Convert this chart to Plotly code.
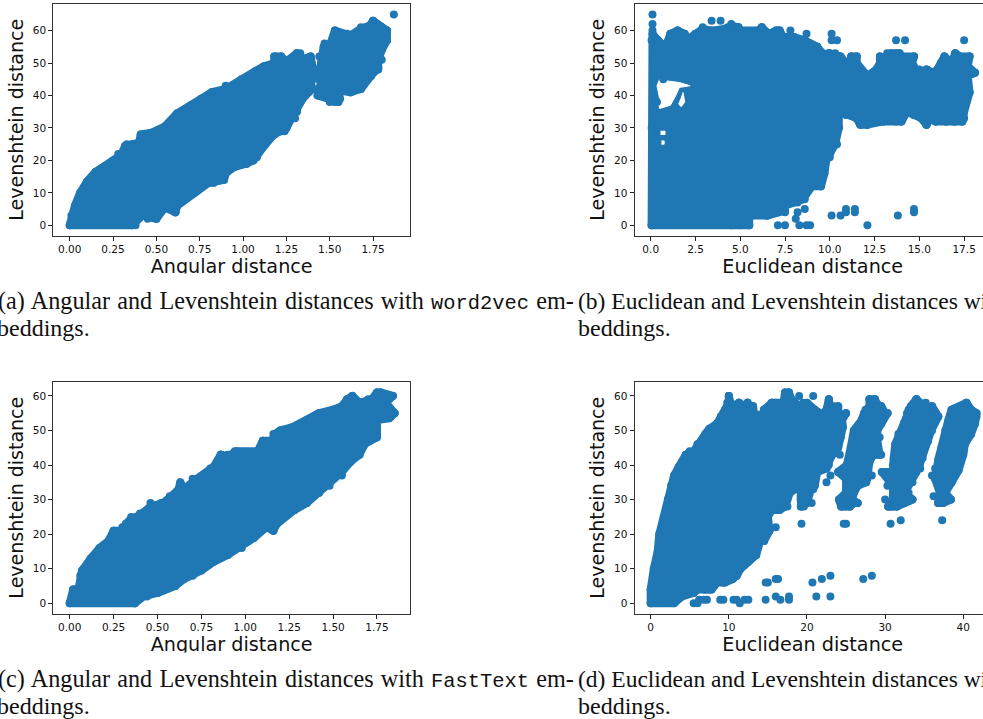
import plotly.graph_objects as go

BLUE = "#1f77b4"
FIG_W, FIG_H = 1000, 719

# ---------- panel (a) word2vec, angular ----------
a_main_x = [0.00,0.01,0.03,0.06,0.10,0.15,0.20,0.25,0.30,0.32,0.40,0.41,0.47,0.55,0.62,0.70,0.76,0.82,0.90,0.97,1.00,1.07,1.12,1.18,1.18,1.22,1.25,1.31,1.33,1.39,1.40,1.41,1.39,1.40,1.35,1.31,1.28,1.25,1.22,1.18,1.13,1.08,1.06,1.02,0.95,0.90,0.89,0.80,0.72,0.62,0.61,0.55,0.50,0.42,0.36,0.00]
a_main_y = [0,3,6,10,13.5,16.5,18,20,22,24.5,25.5,28,28.5,30.5,34.5,37,39,41,42,44,45,47.5,49,50,52,52,50.5,53,51,52,49,48,44.5,42,39.5,35,33,30,29,28,25,21.5,20,19,18,16,14,13,10,6,4,5.5,2,3,0,0]
a_far_x = [1.435,1.45,1.43,1.50,1.53,1.55,1.56,1.62,1.68,1.72,1.74,1.78,1.78,1.80,1.83,1.83,1.80,1.77,1.75,1.73,1.68,1.62,1.53,1.50,1.465,1.45,1.435]
a_far_y = [45,44,40,38.5,38,38,41.5,41,42,45,46.3,48.4,51,54,57,60,61,62,63,61.5,60.6,58.5,60,55.4,55,50,45]
a_out_x = [1.87]
a_out_y = [65]
a_edge_x = [0.17,0.21,0.28,0.33,0.36,0.41,0.44,0.50,0.58,0.68,0.76,0.82,0.90,0.99,1.10,1.14,1.19,1.22,1.31,1.33,1.39,1.41,1.36,1.31,1.30,1.25,1.24,1.18,1.08,1.02,0.95,0.89,0.83,0.74,0.66,0.61,0.50,0.45,0.38,1.45,1.50,1.53,1.56,1.62,1.66,1.70,1.74,1.78,1.80,1.83,1.83,1.80,1.75,1.74,1.68,1.53,1.60,1.47,1.44]
a_edge_y = [17,18,22,25,25,28,27,29,31,36,39,41,43,45,48,49,52,52,53,53,52,46,40,35,33,30,29,28,21,19,18,14,13,11,8,4,2,2,0,41,38,38,39,41,43,44,46,48,51,57,60,61,63,62,61,60,59,56,52]

# ---------- panel (b) word2vec, euclidean ----------
b_main_x = [0.05,0.05,0.05,0.10,0.40,0.70,0.90,1.10,1.50,1.90,2.00,2.50,2.90,3.40,3.90,4.10,4.50,4.90,5.00,6.00,6.20,6.60,7.00,7.20,7.40,7.80,8.00,8.60,8.90,9.30,9.50,9.90,10.0,10.6,10.9,11.1,11.2,11.5,11.5,11.9,12.1,12.6,12.8,12.8,13.2,13.4,13.9,14.0,14.7,14.6,14.9,15.2,15.4,15.8,16.0,16.2,16.4,16.8,17.0,17.3,17.8,17.7,18.1,17.7,17.8,17.5,17.5,17.4,17.0,16.5,15.9,15.6,15.4,15.1,14.7,14.3,14.0,13.0,12.1,11.7,11.5,10.9,10.6,10.5,10.5,10.3,10.0,9.80,9.70,9.50,9.00,8.70,8.50,8.00,7.50,7.50,6.50,5.50,5.50,0.05]
b_main_y = [0,30,57,59,57,55.5,56,59,60,59,57,59,60.5,60,60,60.5,61.5,61,60,60,61,59,60,60,58,58,58,57,56,55,53.5,52,53,52,50,49.5,52,52,50,47,46,48,50,52,51,53,53,52,52,50,47,47,48,47,48,50,52,50,53,52,52,49,47,46,41,35,33,32,32,32,32,33,31,33,34,35,32,32,31,31,33,34,35,34,30,25,22,20,16,12,12,10,8,7,6,4.5,3,3,0,0]
b_hole1_x = [0.35,0.50,0.90,1.60,2.20,1.60,1.40,1.10,0.50,0.40,0.50,0.35]
b_hole1_y = [43,45,44.5,44,43,42.5,40,37,36,38,39,43]
b_hole2_x = [1.80,1.90,1.70,1.55]
b_hole2_y = [41,38,36.5,37.5]
b_hole3_x = [0.55,0.80,0.80,0.55]
b_hole3_y = [28,28,29,29]
b_hole4_x = [0.60,0.75,0.75,0.60]
b_hole4_y = [25,25,26,26]
b_out_x = [0.10,0.10,0.10,3.40,3.90,10.1,10.4,10.1,13.7,14.2,17.5,0.70,0.35,7.10,7.50,8.30,8.70,8.90,8.10,8.20,8.60,10.1,10.6,10.9,10.9,11.4,11.4,12.1,13.8,14.7,14.7]
b_out_y = [60,62,65,63,63,59,57,57,57,57,57,45,38,0,0,0,0,0,2,4,5,3,3,4,5,4,5,0,3,4,5]
b_edge_x = [0.4,1.1,1.5,1.8,2.5,2.9,4.5,4.9,6.2,6.6,7.0,7.2,7.8,8.0,8.7,9.3,9.9,10.3,10.6,11.2,11.5,12.8,13.2,13.7,14.7,15.0,15.4,16.4,17.0,17.8,18.1,17.8,17.8,17.5,17.4,16.9,16.5,15.9,15.4,14.7,14.0,13.7,13.0,12.5,12.1,11.7,11.0,10.5,10.4,10.0,9.5,9.5,8.9,8.6,8.2,7.5,7.1,6.5,5.5,5.0,4.5]
b_edge_y = [57,59,60,59,59,61,62,61,61,59,60,60,60,58,59,55,53,53,52,52,52,52,53,53,52,48,48,52,53,52,47,48,41,38,32,32,32,32,31,34,32,32,32,32,31,31,34,30,25,21,12,15,12,8,7,4,5,3,0,0,0]

# ---------- panel (c) FastText, angular ----------
c_main_x = [0.00,0.02,0.02,0.05,0.06,0.07,0.12,0.17,0.22,0.25,0.30,0.32,0.35,0.40,0.46,0.53,0.58,0.62,0.63,0.65,0.71,0.77,0.82,0.86,0.90,0.95,1.07,1.10,1.15,1.17,1.20,1.27,1.35,1.42,1.50,1.55,1.58,1.61,1.65,1.72,1.75,1.77,1.84,1.80,1.85,1.82,1.75,1.75,1.71,1.68,1.65,1.60,1.55,1.48,1.42,1.35,1.28,1.20,1.18,1.16,1.12,1.05,0.98,0.90,0.82,0.75,0.65,0.60,0.50,0.42,0.37,0.00]
c_main_y = [0,3,4,4,8,9.5,13,16,18,21,21,23,24.5,25.5,28,29,31,33,35,33,35.5,37.5,39.5,43,42.5,44,44,47,47,49,50,51,53,55,56,57,59,60,58,59,61,61,60,58,55,53.5,53,48,47,46,43,41,38,35,32,29,27,24,23,21,22,19,16.5,14,12,9.5,7,5,3,2,0,0]
c_edge_x = [0.02,0.05,0.12,0.20,0.25,0.30,0.35,0.40,0.46,0.52,0.57,0.70,0.74,0.80,0.86,0.90,0.94,1.10,1.16,1.20,1.28,1.37,1.42,1.50,1.58,1.61,1.70,1.75,1.77,1.84,1.80,1.85,1.83,1.76,1.74,1.71,1.65,1.60,1.55,1.48,1.42,1.35,1.28,1.20,1.16,1.18,1.05,0.98,0.90,0.84,0.78,0.70,0.65,0.60,0.50,0.44,0.37]
c_edge_y = [4,4,13,17,21,22,25,26,29,29,31,36,36,39,43,43,44,47,49,50,51,53,55,56,59,60,59,61,61,60,58,55,54,53,48,47,43,41,37,34,32,29,27,24,21,23,19,16,14,13,11,8,7,5,3,2,0]

# ---------- panel (d) FastText, euclidean ----------
d_main_x = [0.0,0.0,0.4,0.9,1.1,1.7,2.2,2.6,3.0,3.6,4.5,5.5,6.0,7.0,7.5,8.5,9.0,9.5,10.0,10.0,10.2,11.0,11.3,12.0,12.4,12.6,13.1,13.2,14.2,14.5,15.5,17.0,17.2,17.7,18.0,19.0,20.0,21.0,21.5,22.0,22.5,22.8,23.0,23.5,24.0,24.0,25.0,24.5,24.6,24.3,24.0,23.6,23.0,22.5,21.3,21.0,20.5,20.0,19.3,19.2,19.2,18.5,17.8,17.5,17.2,16.5,15.5,15.0,15.2,14.5,14.0,13.5,12.5,11.5,11.0,10.5,9.5,8.5,7.8,7.0,6.0,5.5,4.0,3.0,0.0]
d_main_y = [0,4,10,15,20,25,30,34,37,39.5,43,44,46,49,50.5,52,54,56,58,60,58,57,58,57,58,56,57,55,54,56,58,58,61,61,59,57,58,56,55,54.5,56,59,56,56,57,54,55,53,51,48,45,44,42,39,38,34,33,29,28,30,34,33,32,30,28,27,27,25,21,18,18,14,12,10,8,7,6,6,4,4,4,3,2,0,0]
d_c2_x = [24.4,24.1,25.0,25.0,24.0,25.1,25.6,26.0,27.0,27.3,28.0,28.0,28.7,29.0,29.5,30.0,30.3,29.5,29.0,29.0,29.3,28.5,28.0,27.7,27.5,26.5,26.0,25.8,26.5,26.0,25.5,24.4]
d_c2_y = [28,30,32,36,38,40,45,50,53,55,57,59,59,57.5,57,55,55,52,50,47,43,43,41,36,35,34,32,30,29,29,28,28]
d_c3_x = [30.4,30.7,31.0,31.0,29.6,31.0,31.1,31.3,32.4,32.8,33.3,34.0,35.0,35.5,36.0,36.5,36.8,35.9,35.5,35.0,34.4,34.0,33.3,32.5,33.5,33.0,32.0,31.5,30.4]
d_c3_y = [28,28,30,34,38,38,42,46,52,55,57,59,57,56,57,55,54,50,47,45,40,38,35,32,30,29.5,29,28,28]
d_c4_x = [36.8,37.4,38.4,37.7,38.5,39.4,40.0,40.2,41.0,41.5,41.7,41.0,40.4,38.5,38.1,37.7,37.2,36.8,36.4,37.0,36.8]
d_c4_y = [29,29,30,32,35,38.5,43,46,49,52,55,56,58,56,53,50,45,41.5,36,32,29]
d_out_x = [5.5,6.0,6.2,6.8,7.2,8.9,9.3,10.6,11.0,11.4,12.0,12.5,14.7,16.0,16.6,17.7,17.7,21.2,23.0,14.7,15.0,16.0,16.3,20.7,21.9,23.0,27.2,28.3,19.3,24.7,25.0,30.7,32.0,37.3,16.0,19.0,20.8,30.0,36.0,36.2,36.4]
d_out_y = [0,0,1,1,1,1,1,1,1,0,1,1,1,2,1,1,2,2,2,6,6,7,7,6,7,8,7,8,23,23,23,23,24,24,22,60,60,30,37,31,39]
d_edge_x = [4.5,5.0,6.0,6.5,7.5,8.5,9.0,9.5,10.0,9.8,11.0,11.3,12.4,13.1,14.5,15.5,16.0,17.2,17.7,18.0,19.5,21.0,22.2,22.8,23.5,24.0,25.0,24.5,24.3,24.2,23.4,22.8,23.0,22.5,20.8,20.6,19.2,19.6,17.5,17.8,16.3,15.5,15.0,15.2,14.5,13.5,12.0,11.0,10.4,9.3,7.5,7.0,8.0,24.2,24.4,25.0,25.5,26.3,25.0,25.0,24.0,24.6,25.5,26.0,26.5,27.0,27.5,28.0,28.7,29.5,30.3,29.5,29.3,29.5,28.7,28.0,28.3,27.6,26.5,30.4,31.0,31.5,32.5,33.3,33.0,33.5,34.5,34.8,35.5,36.0,36.8,36.0,35.2,34.0,33.0,32.5,31.7,31.3,31.0,29.6,30.7,30.3,31.0,36.8,37.4,38.4,37.7,38.5,39.4,40.0,41.0,41.7,41.0,40.4,39.0,38.5,38.0,37.5,37.0,37.0,36.4,37.0]
d_edge_y = [43,44,46,47,50,52,54,55,60,58,57,58,58,57,56,58,58,61,61,59,58,56,55,59,57,54,55,51,48,43,44,40,37,35,33,29,28,28,28,32,27,27,25,21,18,14,11,8,7,6,4,4,6,30,28,28,28,29,32,36,38,38,42,46,50,53,56,59,59,57,55,52,48,43,43,41,37,35,34,28,28,28,29,30,32,35,39,42,47,50,54,57,58,59,56,52,49,44,40,38,38,34,32,29,29,30,33,35,39,44,49,54,56,58,56,53,50,46,42,39,36,33]

# ---------- ticks and text ----------
a_xticks = [0.0,0.25,0.5,0.75,1.0,1.25,1.5,1.75]
b_xticks = [0.0,2.5,5.0,7.5,10.0,12.5,15.0,17.5]
d_xticks = [0,10,20,30,40]
lev_ticks = [0,10,20,30,40,50,60]
Y_TITLE = "Levenshtein distance"
ANG_TITLE = "Angular distance"
EUC_TITLE = "Euclidean distance"
SERIF = "Liberation Serif"
MONO = "font-family:'Liberation Mono';font-size:20.4px"
captions = [
    ("(a) Angular and Levenshtein distances with <span style=\"%s\">word2vec</span> em-" % MONO, "beddings."),
    ("(b) Euclidean and Levenshtein distances with <span style=\"%s\">word2vec</span> em-" % MONO, "beddings."),
    ("(c) Angular and Levenshtein distances with <span style=\"%s\">FastText</span> em-" % MONO, "beddings."),
    ("(d) Euclidean and Levenshtein distances with <span style=\"%s\">FastText</span> em-" % MONO, "beddings."),
]

fig = go.Figure()

def px(v): return v / FIG_W
def py(v): return 1 - v / FIG_H

panels = [
    dict(n="", left=53.3, right=410, top=4, bot=235.5, xr=[-0.0945,1.963], yr=[-3.15,68.2], ticks=a_xticks, fmt=".2f", title=ANG_TITLE),
    dict(n="2", left=634.5, right=991, top=4, bot=235.5, xr=[-0.905,19.0], yr=[-3.15,68.2], ticks=b_xticks, fmt=".1f", title=EUC_TITLE),
    dict(n="3", left=53.3, right=410, top=381.7, bot=613.7, xr=[-0.0934,1.938], yr=[-3.0,64.1], ticks=a_xticks, fmt=".2f", title=ANG_TITLE),
    dict(n="4", left=634.5, right=991, top=381.7, bot=613.7, xr=[-2.07,43.55], yr=[-3.0,64.1], ticks=d_xticks, fmt="d", title=EUC_TITLE),
]

layout = {}
for p in panels:
    layout["xaxis" + p["n"]] = dict(
        domain=[px(p["left"]), px(p["right"])], range=p["xr"], anchor="y" + p["n"],
        tickvals=p["ticks"], tickformat=p["fmt"], ticks="outside", ticklen=4, tickwidth=1,
        tickcolor="#222", linecolor="#333", linewidth=1, mirror=True, showgrid=False, zeroline=False,
        tickfont=dict(family="DejaVu Sans", size=10.5, color="#111"),
        title=dict(text=p["title"], font=dict(family="DejaVu Sans", size=19.2, color="#111"), standoff=4),
        automargin=False,
    )
    layout["yaxis" + p["n"]] = dict(
        domain=[py(p["bot"]), py(p["top"])], range=p["yr"], anchor="x" + p["n"],
        tickvals=lev_ticks, tickformat="d", ticks="outside", ticklen=4, tickwidth=1,
        tickcolor="#222", linecolor="#333", linewidth=1, mirror=True, showgrid=False, zeroline=False,
        tickfont=dict(family="DejaVu Sans", size=10.5, color="#111"),
        title=dict(text=Y_TITLE, font=dict(family="DejaVu Sans", size=19, color="#111"), standoff=4),
        automargin=False,
    )

def blob(x, y, xa, ya):
    fig.add_trace(go.Scatter(x=x, y=y, mode="lines+markers", fill="toself", fillcolor=BLUE,
                             line=dict(color=BLUE, width=8), marker=dict(color=BLUE, size=8),
                             xaxis=xa, yaxis=ya, showlegend=False, hoverinfo="skip"))

def hole(x, y, xa, ya):
    fig.add_trace(go.Scatter(x=x, y=y, mode="lines", fill="toself", fillcolor="white",
                             line=dict(color="white", width=1),
                             xaxis=xa, yaxis=ya, showlegend=False, hoverinfo="skip"))

def dots(x, y, xa, ya):
    fig.add_trace(go.Scatter(x=x, y=y, mode="markers", marker=dict(color=BLUE, size=8),
                             xaxis=xa, yaxis=ya, showlegend=False, hoverinfo="skip"))

blob(a_main_x, a_main_y, "x", "y")
blob(a_far_x, a_far_y, "x", "y")
dots(a_out_x, a_out_y, "x", "y")
dots(a_edge_x, a_edge_y, "x", "y")

blob(b_main_x, b_main_y, "x2", "y2")
hole(b_hole1_x, b_hole1_y, "x2", "y2")
hole(b_hole2_x, b_hole2_y, "x2", "y2")
hole(b_hole3_x, b_hole3_y, "x2", "y2")
hole(b_hole4_x, b_hole4_y, "x2", "y2")
dots(b_out_x, b_out_y, "x2", "y2")
dots(b_edge_x, b_edge_y, "x2", "y2")

blob(c_main_x, c_main_y, "x3", "y3")
dots(c_edge_x, c_edge_y, "x3", "y3")

blob(d_main_x, d_main_y, "x4", "y4")
blob(d_c2_x, d_c2_y, "x4", "y4")
blob(d_c3_x, d_c3_y, "x4", "y4")
blob(d_c4_x, d_c4_y, "x4", "y4")
dots(d_out_x, d_out_y, "x4", "y4")
dots(d_edge_x, d_edge_y, "x4", "y4")

annotations = []
# white strips that crop the descenders of the x titles, as in the source page
for mask_top in (273, 652):
    for cx in (230, 812):
        annotations.append(dict(text=" ", x=px(cx), y=py(mask_top), xref="paper", yref="paper",
                                xanchor="center", yanchor="top", showarrow=False, width=200, height=12,
                                bgcolor="white", font=dict(size=8)))
# left column is set wider (24.2, loose word gaps), right column tighter (23.5), as in the justified source
cap_style = [(-4, 301, 24.2, 1.2, -5.5), (576, 301, 23.5, 0, 576), (-4, 679, 24.2, 1.2, -5.5), (576, 679, 23.5, 0, 576)]
for (l1, l2), (cx, cy, size, gap, cx2) in zip(captions, cap_style):
    l1 = "<span style=\"word-spacing:%.1fpx\">%s</span>" % (gap, l1)
    annotations.append(dict(text=l1, x=px(cx), y=py(cy), xref="paper", yref="paper", xanchor="left", yanchor="middle",
                            showarrow=False, align="left", font=dict(family=SERIF, size=size, color="#111")))
    annotations.append(dict(text=l2, x=px(cx2), y=py(cy + 26.5), xref="paper", yref="paper", xanchor="left", yanchor="middle",
                            showarrow=False, align="left", font=dict(family=SERIF, size=24, color="#111")))

fig.update_layout(width=FIG_W, height=FIG_H, autosize=False, margin=dict(l=0, r=0, t=0, b=0),
                  paper_bgcolor="white", plot_bgcolor="white", showlegend=False,
                  annotations=annotations, **layout)

fig.write_html("out.html", post_script=(
    "document.documentElement.style.overflow='hidden';document.body.style.margin='0';"
    "document.body.style.overflow='hidden';"
    "document.querySelectorAll('.js-line').forEach(function(e){e.style.strokeLinejoin='round';});"),
    config={"displayModeBar": False})
